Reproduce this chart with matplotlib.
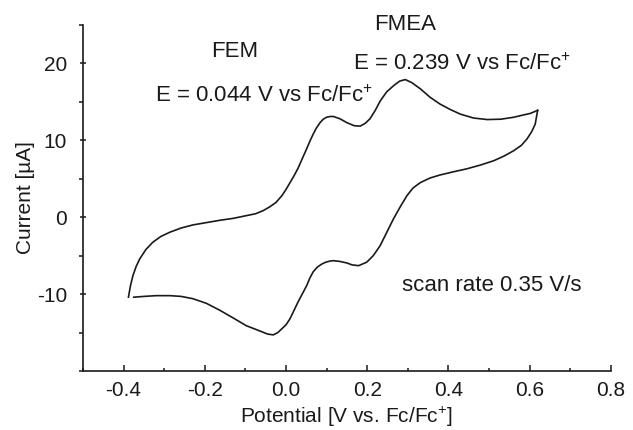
import matplotlib
matplotlib.use("Agg")
import matplotlib.pyplot as plt
from matplotlib.ticker import MultipleLocator

plt.rcParams["font.family"] = ["Liberation Sans", "DejaVu Sans"]
plt.rcParams["mathtext.fontset"] = "custom"
plt.rcParams["mathtext.rm"] = "Liberation Sans"
plt.rcParams["mathtext.it"] = "Liberation Sans:italic"

# ── CV data (potential in V vs Fc/Fc+, current in µA) ──
fwd_potential = [-0.388, -0.383, -0.377, -0.369, -0.360, -0.345, -0.328, -0.308,
                 -0.286, -0.258, -0.229, -0.196, -0.163, -0.130, -0.098, -0.075,
                 -0.056, -0.040, -0.025, -0.010, 0.000, 0.010, 0.020, 0.030,
                 0.040, 0.051, 0.059, 0.067, 0.075, 0.084, 0.092, 0.100,
                 0.109, 0.117, 0.125, 0.133, 0.150, 0.168, 0.183,
                 0.195, 0.207, 0.220, 0.232, 0.248, 0.265, 0.280, 0.294,
                 0.310, 0.331, 0.355, 0.380, 0.405, 0.430, 0.462, 0.496,
                 0.530, 0.561, 0.585, 0.602, 0.620]
fwd_current = [-10.4, -8.9, -7.6, -6.4, -5.4, -4.2, -3.25, -2.5,
               -1.95, -1.4, -1.0, -0.7, -0.4, -0.15, 0.2, 0.45,
               0.86, 1.35, 1.9, 2.8, 3.6, 4.5, 5.4, 6.4,
               7.6, 8.9, 9.9, 10.8, 11.6, 12.3, 12.75, 13.0,
               13.1, 13.1, 12.95, 12.8, 12.3, 11.9, 11.85,
               12.2, 12.8, 13.9, 15.1, 16.3, 17.1, 17.7, 17.9,
               17.5, 16.7, 15.6, 14.7, 14.0, 13.4, 12.9, 12.7,
               12.75, 13.0, 13.3, 13.5, 13.9]

rev_potential = [0.620, 0.617, 0.614, 0.605, 0.594, 0.580, 0.561, 0.537,
                 0.512, 0.480, 0.446, 0.412, 0.380, 0.355, 0.331, 0.313,
                 0.298, 0.282, 0.265, 0.248, 0.232, 0.215, 0.199, 0.179,
                 0.163, 0.150, 0.133, 0.117, 0.109, 0.098, 0.088, 0.077,
                 0.067, 0.059, 0.051, 0.040, 0.030, 0.020, 0.010, 0.000,
                 -0.010, -0.020, -0.031, -0.045, -0.064,
                 -0.098, -0.130, -0.163, -0.196, -0.229, -0.258, -0.286, -0.320,
                 -0.350, -0.375]
rev_current = [13.9, 13.0, 12.1, 11.1, 10.2, 9.35, 8.65, 7.95,
               7.35, 6.8, 6.3, 5.9, 5.5, 5.1, 4.5, 3.8,
               2.8, 1.4, -0.2, -2.0, -3.7, -5.0, -5.85, -6.3,
               -6.2, -5.95, -5.75, -5.65, -5.7, -5.85, -6.1, -6.5,
               -7.1, -7.9, -8.9, -10.0, -11.0, -12.1, -13.2, -14.0,
               -14.5, -15.0, -15.3, -15.2, -14.8,
               -14.1, -13.1, -12.1, -11.2, -10.6, -10.3, -10.2, -10.2,
               -10.3, -10.4]

x_ticks = [-0.4, -0.2, 0.0, 0.2, 0.4, 0.6, 0.8]
x_ticklabels = ["-0.4", "-0.2", "0.0", "0.2", "0.4", "0.6", "0.8"]
y_ticks = [-10, 0, 10, 20]
y_ticklabels = ["-10", "0", "10", "20"]

FC = r"Fc/Fc$^{\mathrm{+}}$"
INK = "#1a1a1a"

fig = plt.figure(figsize=(6.33, 4.30), dpi=100)
ax = fig.add_axes([0.1311, 0.1372, 0.8337, 0.8047])

ax.plot(fwd_potential, fwd_current, color=INK, lw=1.2)
ax.plot(rev_potential, rev_current, color=INK, lw=1.2)

ax.set_xlim(-0.5, 0.8)
ax.set_ylim(-20, 25)

for side in ("top", "right"):
    ax.spines[side].set_visible(False)
for side in ("left", "bottom"):
    ax.spines[side].set_linewidth(1.2)
    ax.spines[side].set_color(INK)

ax.set_xticks(x_ticks)
ax.set_xticklabels(x_ticklabels)
ax.set_yticks(y_ticks)
ax.set_yticklabels(y_ticklabels)
ax.xaxis.set_minor_locator(MultipleLocator(0.1))
ax.yaxis.set_minor_locator(MultipleLocator(5))

ax.tick_params(axis="x", which="major", direction="in", length=4.5, width=1.1,
               pad=7, labelsize=15, colors=INK)
ax.tick_params(axis="x", which="minor", direction="in", length=2.3, width=1.1, colors=INK)
ax.tick_params(axis="y", which="major", direction="inout", length=5, width=1.1,
               pad=9, labelsize=15, colors=INK)
ax.tick_params(axis="y", which="minor", direction="out", length=2.8, width=1.1, colors=INK)

ax.set_xlabel("Potential [V vs. " + FC + "]", fontsize=15, color=INK, labelpad=4)
ax.set_ylabel("Current [µA]", fontsize=15, color=INK, labelpad=1)

# ── Annotations ──
ax.text(-0.126, 21.5, "FEM", fontsize=16, color=INK, ha="center", va="center")
ax.text(-0.323, 15.75, "E = 0.044 V vs " + FC, fontsize=16, color=INK,
        ha="left", va="center")
ax.text(0.294, 25.1, "FMEA", fontsize=16, color=INK, ha="center", va="center",
        clip_on=False)
ax.text(0.165, 19.9, "E = 0.239 V vs " + FC, fontsize=16, color=INK,
        ha="left", va="center")
ax.text(0.286, -8.9, "scan rate 0.35 V/s", fontsize=16, color=INK,
        ha="left", va="center")

fig.savefig("out.png", dpi=100)
